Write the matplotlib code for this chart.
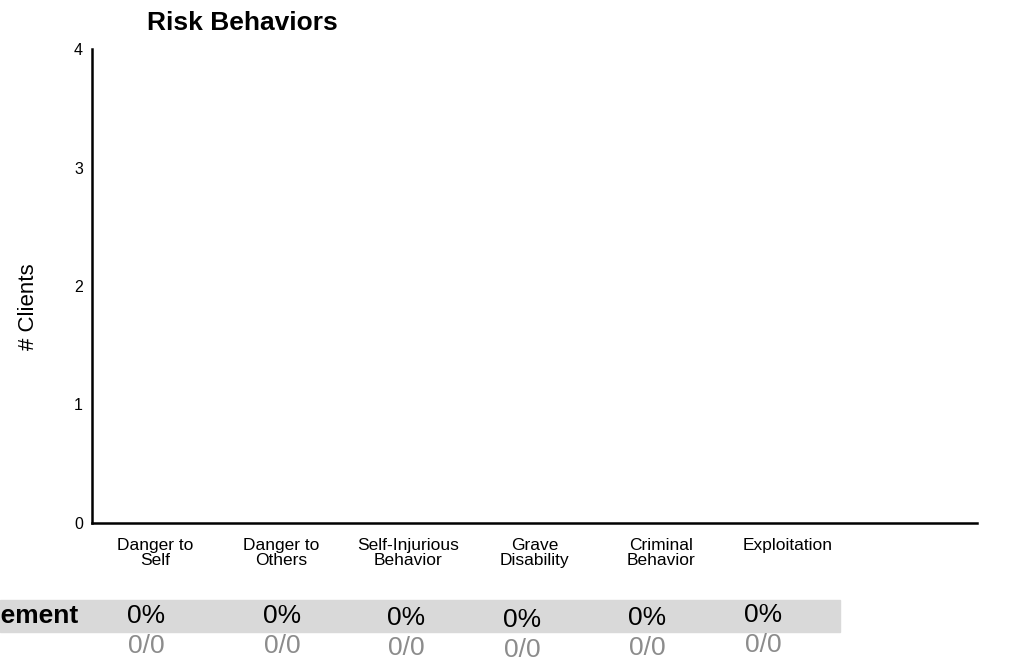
import matplotlib
matplotlib.use("Agg")
import matplotlib.pyplot as plt
from matplotlib.patches import Rectangle

plt.rcParams['font.family'] = ['Liberation Sans', 'DejaVu Sans']

# data
categories = ["Danger to\nSelf", "Danger to\nOthers", "Self-Injurious\nBehavior",
              "Grave\nDisability", "Criminal\nBehavior", "Exploitation"]
clients = [0, 0, 0, 0, 0, 0]
pct_labels = ["0%", "0%", "0%", "0%", "0%", "0%"]
ratio_labels = ["0/0", "0/0", "0/0", "0/0", "0/0", "0/0"]
row_label = "Engagement"

W, H = 1036, 670
fig = plt.figure(figsize=(W / 100, H / 100), dpi=100)
ax = fig.add_axes([92 / W, (H - 523) / H, (977 - 92) / W, (523 - 49) / H])

x = range(len(categories))
ax.bar(x, clients, width=0.6, color="#4472c4")
ax.set_xlim(-0.5, len(categories) + 0.5)
ax.set_ylim(0, 4)
ax.set_yticks([0, 1, 2, 3, 4])
ax.tick_params(axis="y", length=0, labelsize=11.5, pad=6.5)
for lbl in ax.get_yticklabels():
    lbl.set_fontweight("medium")
ax.set_xticks(list(x))
ax.set_xticklabels(categories, fontsize=12.5, va="top", linespacing=1.0)
ax.tick_params(axis="x", length=0, pad=11)
for s in ["top", "right"]:
    ax.spines[s].set_visible(False)
for s in ["left", "bottom"]:
    ax.spines[s].set_linewidth(1.8)
ax.set_ylabel("# Clients", fontsize=16)
ax.yaxis.set_label_coords(-0.060, 0.456)
ax.set_title("Risk Behaviors", fontsize=19, fontweight="bold", x=0.17, pad=14)

# summary table below the chart
fig.patches.append(Rectangle((0, (H - 632) / H), 840 / W, 32 / H,
                             transform=fig.transFigure, color="#d9d9d9", zorder=0))
fig.text(78 / W, (H - 616) / H, row_label, ha="right", va="center",
         fontsize=19, fontweight="bold")
col_x = [146, 282, 406, 522, 647, 763]
col_dy = [0, 0, 2, 4, 2, -1]
for cx, dy, p, r in zip(col_x, col_dy, pct_labels, ratio_labels):
    fig.text(cx / W, (H - 616 - dy) / H, p, ha="center", va="center", fontsize=19)
    fig.text(cx / W, (H - 646 - dy) / H, r, ha="center", va="center",
             fontsize=19, color="#8c8c8c")

fig.savefig("out.png", dpi=100)
